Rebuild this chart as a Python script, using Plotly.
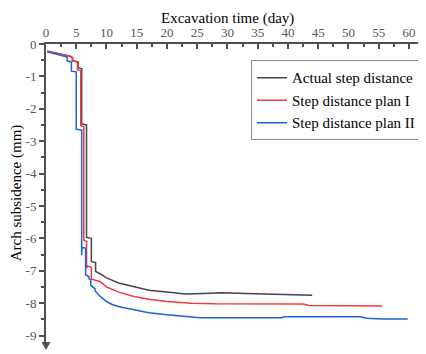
import plotly.graph_objects as go

# ---- data ----
actual_day = [0.2, 1, 2, 3, 4, 4.4, 4.4, 5.3, 5.3, 5.9, 5.9, 6.7, 6.7, 7.5, 7.5, 8.2, 8.2, 9,
              10, 12, 14.4, 17, 20, 23, 26, 29, 33, 38, 44]
actual_val = [-0.22, -0.25, -0.29, -0.33, -0.38, -0.42, -0.52, -0.55, -0.74, -0.76, -2.47, -2.5,
              -5.97, -6.0, -6.72, -6.75, -7.02, -7.1,
              -7.22, -7.38, -7.49, -7.6, -7.66, -7.72, -7.7, -7.68, -7.7, -7.72, -7.76]

plan1_day = [0.2, 1, 2, 3, 4, 4.35, 4.35, 5.2, 5.2, 5.75, 5.75, 6.25, 6.25, 6.7, 6.7, 6.9, 7.5,
             7.5, 8.3, 8.9, 10, 12, 14.4, 17, 20, 24, 28, 35, 42.5, 43.5, 48, 55.6]
plan1_val = [-0.22, -0.26, -0.3, -0.34, -0.38, -0.42, -0.52, -0.55, -0.8, -0.82, -2.52, -2.55,
             -6.05, -6.1, -6.92, -6.85, -6.9, -7.25, -7.3, -7.33, -7.5, -7.66, -7.79, -7.88,
             -7.95, -8.0, -8.02, -8.03, -8.03, -8.07, -8.08, -8.09]

plan2_day = [0.2, 1, 2, 3, 3.5, 3.5, 4.2, 4.2, 5.0, 5.0, 5.9, 5.9, 5.95, 6.55, 6.55, 7.1, 7.1,
             7.4, 7.4, 8.1, 8.1, 9, 10, 11, 12.5, 14.4, 17, 20, 23, 25.5, 39, 39.3, 51.9,
             53, 55.7, 59.8]
plan2_val = [-0.24, -0.28, -0.32, -0.36, -0.4, -0.52, -0.56, -0.84, -0.86, -2.63, -2.66, -6.52,
             -6.28, -6.3, -7.13, -7.18, -7.25, -7.28, -7.45, -7.55, -7.62, -7.8, -7.95, -8.05,
             -8.13, -8.2, -8.3, -8.36, -8.41, -8.45, -8.45, -8.42, -8.42, -8.47, -8.49, -8.49]

series_names = ["Actual step distance", "Step distance plan I", "Step distance plan II"]
series_colors = ["#454545", "#f03a3c", "#1d63d6"]

x_tick_vals = [0, 5, 10, 15, 20, 25, 30, 35, 40, 45, 50, 55, 60]
y_tick_vals = [0, -1, -2, -3, -4, -5, -6, -7, -8, -9]
y_tick_text = ["0", "-1", "-2", "-3", "-4", "-5", "-6", "-7", "-8", "-9"]
x_title = "Excavation time (day)"
y_title = "Arch subsidence (mm)"

FONT = "Liberation Serif, Times New Roman, serif"
AXIS_COLOR = "#505050"

fig = go.Figure()
for d, v, name, col in zip([actual_day, plan1_day, plan2_day],
                           [actual_val, plan1_val, plan2_val],
                           series_names, series_colors):
    fig.add_trace(go.Scatter(x=d, y=v, mode="lines", name=name,
                             line=dict(color=col, width=1.5)))

# the page body adds an 8px offset, so the figure is 8px smaller than the window
fig.update_layout(
    width=418, height=346,
    margin=dict(l=38, r=8, t=36, b=12, autoexpand=False),
    paper_bgcolor="white", plot_bgcolor="white",
    font=dict(family=FONT, color="#000"),
    showlegend=True,
    legend=dict(x=1.008, xanchor="right", y=0.945, yanchor="top",
                bordercolor="#8a8a8a", borderwidth=1, bgcolor="white",
                font=dict(family=FONT, size=15, color="#000"),
                tracegroupgap=0),
    xaxis=dict(side="top", range=[0, 61.5], showgrid=False, zeroline=False, automargin=False,
               showline=True, linecolor=AXIS_COLOR, linewidth=2,
               tickvals=x_tick_vals, ticks="inside", ticklen=5, tickwidth=1.5,
               tickcolor=AXIS_COLOR, ticklabelstandoff=0,
               minor=dict(dtick=2.5, ticks="inside", ticklen=3, tickwidth=1.5,
                          tickcolor=AXIS_COLOR, showgrid=False),
               tickfont=dict(family=FONT, size=13, color="#555")),
    yaxis=dict(range=[-9.2, 0], showgrid=False, zeroline=False, automargin=False,
               showline=True, linecolor=AXIS_COLOR, linewidth=2,
               tickvals=y_tick_vals, ticktext=y_tick_text,
               ticks="outside", ticklen=5, tickwidth=1.5, tickcolor=AXIS_COLOR,
               minor=dict(dtick=0.5, tick0=0, ticks="outside", ticklen=3, tickwidth=1.5,
                          tickcolor=AXIS_COLOR, showgrid=False),
               tickfont=dict(family=FONT, size=13, color="#555"),
               title=dict(text=y_title, font=dict(family=FONT, size=15),
                          standoff=4)),
)

# top axis title placed above the tick labels
fig.add_annotation(text=x_title, xref="paper", yref="paper", x=0.489, y=1,
                   xanchor="center", yanchor="top", yshift=36, showarrow=False,
                   font=dict(family=FONT, size=15, color="#000"))

# axis arrow heads
fig.add_shape(type="path", xref="paper", yref="paper", xsizemode="pixel", ysizemode="pixel",
              xanchor=0, yanchor=0, path="M -4.5 0 L 4.5 0 L 0 -8 Z",
              fillcolor=AXIS_COLOR, line=dict(width=0))
fig.add_shape(type="path", xref="paper", yref="paper", xsizemode="pixel", ysizemode="pixel",
              xanchor=1, yanchor=1, path="M 0 -4.5 L 0 4.5 L 8 0 Z",
              fillcolor=AXIS_COLOR, line=dict(width=0))

fig.write_html("out.html")
